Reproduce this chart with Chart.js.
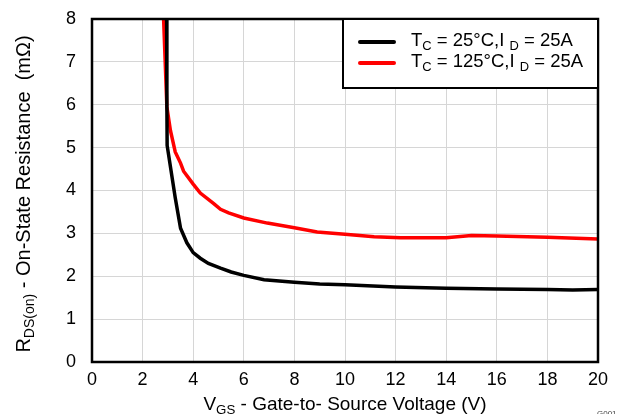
<!DOCTYPE html>
<html>
<head>
<meta charset="utf-8">
<script src="https://cdn.jsdelivr.net/npm/chart.js@4/dist/chart.umd.min.js"></script>
<style>
  html, body { margin: 0; padding: 0; background: #fff; }
  #wrap { width: 623px; height: 414px; }
</style>
</head>
<body>
<div id="wrap"><canvas id="rdson-chart" width="623" height="414"></canvas></div>
<script>
// Tc = 25°C curve (VGS in V, RDS(on) in mOhm)
const vgs25 = [2.95, 2.96, 2.97, 3.29, 3.5, 3.75, 4.0, 4.28, 4.6, 5.08, 5.5, 6.0, 6.8, 8.0, 9.0, 10.0, 12.0, 14.0, 16.0, 18.0, 19.0, 20.0];
const rds25 = [8.0, 5.95, 5.05, 3.83, 3.12, 2.78, 2.55, 2.42, 2.3, 2.19, 2.1, 2.02, 1.92, 1.86, 1.82, 1.8, 1.75, 1.72, 1.7, 1.69, 1.68, 1.69];

// Tc = 125°C curve
const vgs125 = [2.83, 2.96, 3.1, 3.29, 3.5, 3.62, 4.0, 4.28, 4.8, 5.08, 5.4, 6.0, 6.93, 8.0, 8.9, 10.0, 11.15, 12.2, 14.0, 15.0, 16.0, 18.0, 20.0];
const rds125 = [8.0, 5.95, 5.4, 4.9, 4.64, 4.45, 4.15, 3.94, 3.7, 3.56, 3.48, 3.36, 3.24, 3.13, 3.03, 2.98, 2.92, 2.9, 2.9, 2.95, 2.94, 2.91, 2.87];

const xTicks = [0, 2, 4, 6, 8, 10, 12, 14, 16, 18, 20];
const yTicks = [0, 1, 2, 3, 4, 5, 6, 7, 8];

const FONT = '"Liberation Sans", Arial, sans-serif';

function toPoints(xs, ys) {
    return xs.map((x, i) => ({ x: x, y: ys[i] }));
}

// draw text with subscript parts, centred on (x, y)
function richText(ctx, parts, x, y, size, align) {
    const subSize = size * 0.7;
    let total = 0;
    parts.forEach(p => {
        ctx.font = (p.sub ? subSize : size) + 'px ' + FONT;
        p.w = ctx.measureText(p.t).width;
        total += p.w;
    });
    let cx = align === 'left' ? x : x - total / 2;
    ctx.textBaseline = 'middle';
    ctx.textAlign = 'left';
    parts.forEach(p => {
        ctx.font = (p.sub ? subSize : size) + 'px ' + FONT;
        ctx.fillText(p.t, cx, p.sub ? y + size * 0.3 : y);
        cx += p.w;
    });
}

const decor = {
    id: 'decor',
    afterDraw(chart) {
        const ctx = chart.ctx;
        const a = chart.chartArea;
        ctx.save();

        // plot frame
        ctx.strokeStyle = '#000';
        ctx.lineWidth = 2.5;
        ctx.strokeRect(a.left, a.top, a.right - a.left, a.bottom - a.top);

        // legend box
        const lx = 343, ly = a.top, lw = a.right - 343, lh = 69;
        ctx.fillStyle = '#fff';
        ctx.fillRect(lx, ly, lw, lh);
        ctx.lineWidth = 2;
        ctx.strokeRect(lx, ly, lw, lh);

        const rows = [
            { color: '#000000', y: 42, temp: ' = 25°C,I ' },
            { color: '#ff0000', y: 63, temp: ' = 125°C,I ' }
        ];
        rows.forEach(r => {
            ctx.strokeStyle = r.color;
            ctx.lineWidth = 4;
            ctx.lineCap = 'round';
            ctx.beginPath();
            ctx.moveTo(360, r.y);
            ctx.lineTo(394, r.y);
            ctx.stroke();
            ctx.fillStyle = '#000';
            richText(ctx, [
                { t: 'T' }, { t: 'C', sub: true }, { t: r.temp },
                { t: 'D', sub: true }, { t: ' = 25A' }
            ], 411, r.y - 1, 18.5, 'left');
        });

        // axis titles
        ctx.fillStyle = '#000';
        richText(ctx, [
            { t: 'V' }, { t: 'GS', sub: true },
            { t: ' - Gate-to- Source Voltage (V)' }
        ], (a.left + a.right) / 2, 405, 19);

        ctx.save();
        ctx.translate(24, 194);
        ctx.rotate(-Math.PI / 2);
        richText(ctx, [
            { t: 'R' }, { t: 'DS(on)', sub: true },
            { t: ' - On-State Resistance  (m\u03A9)' }
        ], 0, 0, 20);
        ctx.restore();

        // figure tag
        ctx.fillStyle = '#444';
        ctx.font = '8px ' + FONT;
        ctx.textAlign = 'left';
        ctx.textBaseline = 'alphabetic';
        ctx.fillText('G001', 597, 416);

        ctx.restore();
    }
};

new Chart(document.getElementById('rdson-chart'), {
    type: 'scatter',
    data: {
        datasets: [{
            label: 'TC = 25°C, ID = 25A',
            data: toPoints(vgs25, rds25),
            borderColor: '#000000',
            backgroundColor: '#000000',
            borderWidth: 3.5,
            showLine: true,
            tension: 0,
            pointRadius: 0
        }, {
            label: 'TC = 125°C, ID = 25A',
            data: toPoints(vgs125, rds125),
            borderColor: '#ff0000',
            backgroundColor: '#ff0000',
            borderWidth: 3.5,
            showLine: true,
            tension: 0,
            pointRadius: 0
        }]
    },
    options: {
        responsive: false,
        animation: false,
        devicePixelRatio: 1,
        layout: { padding: { left: 0, top: 19, right: 25, bottom: 0 } },
        plugins: {
            legend: { display: false },
            tooltip: { enabled: false }
        },
        scales: {
            x: {
                type: 'linear',
                min: 0,
                max: 20,
                afterBuildTicks: s => { s.ticks = xTicks.map(v => ({ value: v })); },
                afterFit: s => { s.height = 52; },
                border: { display: false },
                grid: { color: '#d6d6d6', lineWidth: 1, drawTicks: false },
                ticks: { color: '#000', padding: 7, font: { family: FONT, size: 18 } }
            },
            y: {
                type: 'linear',
                min: 0,
                max: 8,
                afterBuildTicks: s => { s.ticks = yTicks.map(v => ({ value: v })); },
                afterFit: s => {
                    s.width = 92;
                    // tick padding would otherwise push the plot top down
                    s.paddingTop = 0;
                    s.paddingBottom = 0;
                },
                border: { display: false },
                grid: { color: '#d6d6d6', lineWidth: 1, drawTicks: false },
                ticks: { color: '#000', padding: 16, font: { family: FONT, size: 18 } }
            }
        }
    },
    plugins: [decor]
});
</script>
</body>
</html>
